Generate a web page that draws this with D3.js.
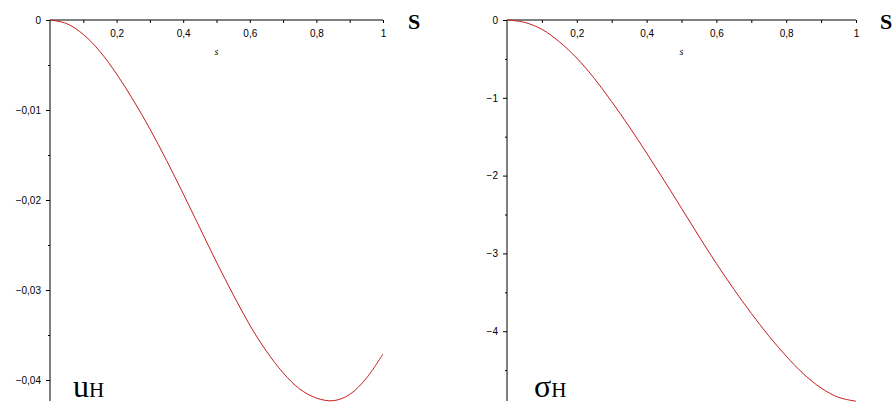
<!DOCTYPE html>
<html>
<head>
<meta charset="utf-8">
<script src="https://cdn.jsdelivr.net/npm/d3@7"></script>
<style>
  body { margin: 0; background: #fff; }
  svg { display: block; }
  .tick text { font-family: "Liberation Sans", Arial, sans-serif; font-size: 10px; fill: #000; }
</style>
</head>
<body>
<div id="chart"></div>
<script>
// s values shared by both plots
const sValues = [0, 0.05, 0.1, 0.15, 0.2, 0.25, 0.3, 0.35, 0.4, 0.45, 0.5,
                 0.55, 0.6, 0.65, 0.7, 0.75, 0.8, 0.85, 0.9, 0.95, 1];

// displacement u_H
const uValues = [0, -0.0004, -0.0016, -0.0035, -0.0060, -0.0089, -0.0121, -0.0156,
                 -0.0193, -0.0231, -0.0269, -0.0305, -0.0339, -0.0368, -0.0392,
                 -0.0410, -0.0420, -0.0423, -0.0416, -0.0398, -0.0371];

// stress sigma_H
const sigmaValues = [0, -0.03, -0.12, -0.28, -0.49, -0.75, -1.05, -1.37, -1.71, -2.06,
                     -2.42, -2.78, -3.13, -3.46, -3.77, -4.06, -4.32, -4.55, -4.73,
                     -4.85, -4.90];

// tick values
const xMajor = [0.2, 0.4, 0.6, 0.8, 1];
const xMinor = [0.1, 0.3, 0.5, 0.7, 0.9];
const uMajor = [0, -0.01, -0.02, -0.03, -0.04];
const uMinor = [-0.005, -0.015, -0.025, -0.035];
const sigmaMajor = [0, -1, -2, -3, -4];
const sigmaMinor = [-0.5, -1.5, -2.5, -3.5, -4.5];

const width = 895, height = 405;

const svg = d3.select("#chart")
  .append("svg")
  .attr("width", width)
  .attr("height", height);

const commaFmt = d => String(+d.toFixed(3)).replace(".", ",").replace("-", "\u2212");

function drawPanel(opts) {
  const x = d3.scaleLinear().domain([0, 1]).range([opts.left, opts.right]);
  const y = d3.scaleLinear().domain([0, opts.yMin]).range([20, 401]);

  const g = svg.append("g");

  // minor x ticks
  g.append("g")
    .attr("transform", `translate(0,${y(0)})`)
    .call(d3.axisBottom(x).tickValues(xMinor).tickSize(3).tickFormat(""))
    .call(a => a.select(".domain").remove());

  // major x ticks + labels
  g.append("g")
    .attr("transform", `translate(0,${y(0)})`)
    .call(d3.axisBottom(x).tickValues(xMajor).tickSize(3).tickPadding(7).tickFormat(commaFmt))
    .call(a => a.select(".domain").attr("d", `M${x(0)},0H${x(1)}`));

  // minor y ticks
  g.append("g")
    .attr("transform", `translate(${x(0)},0)`)
    .call(d3.axisLeft(y).tickValues(opts.minor).tickSize(2).tickFormat(""))
    .call(a => a.select(".domain").remove());

  // major y ticks + labels
  g.append("g")
    .attr("transform", `translate(${x(0)},0)`)
    .call(d3.axisLeft(y).tickValues(opts.major).tickSize(4).tickPadding(5).tickFormat(commaFmt))
    .call(a => a.select(".domain").attr("d", `M0,${y(0)}V401`));

  // curve
  g.append("path")
    .datum(opts.values)
    .attr("fill", "none")
    .attr("stroke", "#c41e1e")
    .attr("stroke-width", 1)
    .attr("d", d3.line()
      .curve(d3.curveCatmullRom)
      .x((d, i) => x(sValues[i]))
      .y(d => y(d)));

  // small axis name under ticks
  g.append("text")
    .attr("x", x(0.5))
    .attr("y", 55)
    .attr("text-anchor", "middle")
    .style("font-family", "Liberation Serif, serif")
    .style("font-style", "italic")
    .style("font-size", "10px")
    .text("s");

  // big S at the end of the axis
  g.append("text")
    .attr("x", opts.sX)
    .attr("y", 29)
    .style("font-family", "Liberation Serif, serif")
    .style("font-weight", "bold")
    .style("font-size", "22px")
    .text("S");

  // symbol in the lower left corner
  const lab = g.append("text")
    .attr("x", opts.labX)
    .attr("y", 397)
    .style("font-family", "Liberation Serif, serif");
  lab.append("tspan").style("font-size", "32px").text(opts.symbol);
  lab.append("tspan").style("font-size", "21px").text("H");
}

drawPanel({ left: 50, right: 383, yMin: -0.04233, values: uValues,
            major: uMajor, minor: uMinor, sX: 408, labX: 73, symbol: "u" });
drawPanel({ left: 507, right: 856, yMin: -4.897, values: sigmaValues,
            major: sigmaMajor, minor: sigmaMinor, sX: 880, labX: 534, symbol: "\u03c3" });
</script>
</body>
</html>
